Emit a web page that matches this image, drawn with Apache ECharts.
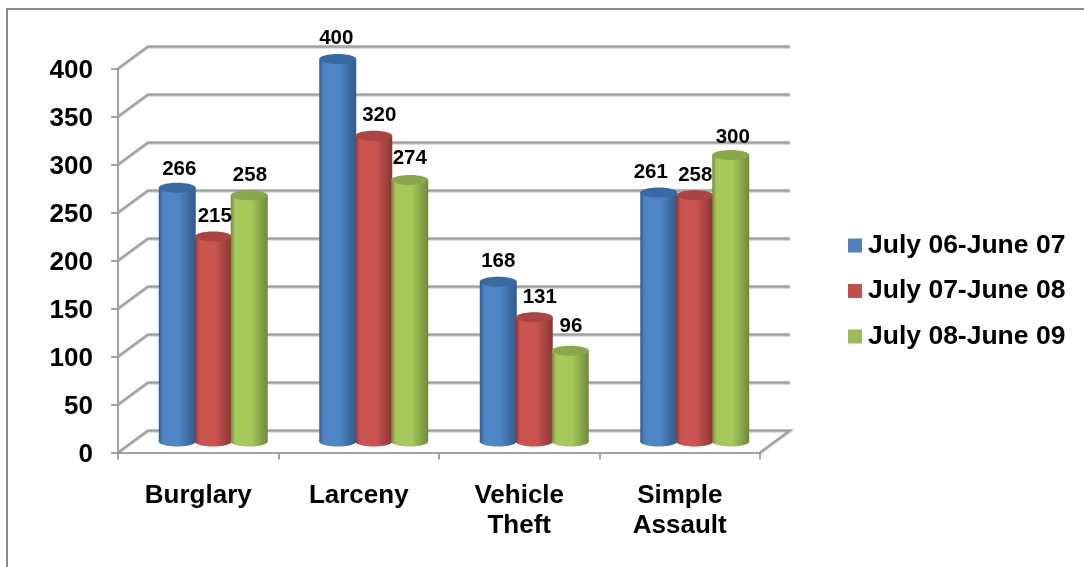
<!DOCTYPE html>
<html><head><meta charset="utf-8">
<style>html,body{margin:0;padding:0;background:#fff}#c{width:1084px;height:567px}</style>
<script src="https://cdn.jsdelivr.net/npm/echarts@6/dist/echarts.min.js"></script>
</head><body><div id="c"></div>
<script>
const categories = ['Burglary','Larceny','Vehicle\nTheft','Simple\nAssault'];
const seriesNames = ['July 06-June 07','July 07-June 08','July 08-June 09'];
const values0 = [266,400,168,261];
const values1 = [215,320,131,258];
const values2 = [258,274,96,300];
const yTicks = [0,50,100,150,200,250,300,350,400];
const legendColors = ['#4f81bd','#c0504d','#9bbb59'];
const edgeColors = ['#315b8c','#8a3735','#6f8a3c'];
const midColors = ['#4d85c5','#cb5451','#a6c85b'];
const capColors = ['#3a6aa3','#ab4543','#8aa84a'];
// manual data-label placement, per series then category (as [dx, dy] from the cap)
const labelNudge0 = [[2,-18],[-1.5,-21],[0,-20],[-8,-20]];
const labelNudge1 = [[1.5,-20],[5.5,-20],[5.5,-20],[0.5,-19.5]];
const labelNudge2 = [[0.7,-19.5],[0,-22],[0.7,-24],[2,-17.5]];
const labelNudges = [labelNudge0,labelNudge1,labelNudge2];
const DEPTH_X = 30, DEPTH_Y = -22, BAR_STEP = 36, BAR_W = 37, RY = 5, CAP_DROP = 1.5;
const FONT = '"Liberation Sans", Arial, sans-serif';
const chart = echarts.init(document.getElementById('c'));
function grad(i){return {type:'linear',x:0,y:0,x2:1,y2:0,colorStops:[
  {offset:0,color:edgeColors[i]},{offset:.12,color:midColors[i]},{offset:.55,color:midColors[i]},{offset:1,color:edgeColors[i]}]};}
function barSeries(i,vals){
  return {name:seriesNames[i],type:'custom',coordinateSystem:'cartesian2d',z:3,clip:false,
    itemStyle:{color:legendColors[i]},
    data:vals.map((v,k)=>[k,v]),encode:{x:0,y:1},
    renderItem(params,api){
      const k=api.value(0),v=api.value(1);
      const base=api.coord([k,0]),top=api.coord([k,v]);
      const cx=base[0]+DEPTH_X/2+(i-1)*BAR_STEP, by=base[1]+DEPTH_Y/2, ty=top[1]+DEPTH_Y/2+CAP_DROP;
      const r=BAR_W/2, n=labelNudges[i][k];
      return {type:'group',children:[
        {type:'ellipse',shape:{cx,cy:by,rx:r,ry:RY},style:{fill:grad(i)},z2:i*3},
        {type:'rect',shape:{x:cx-r,y:ty,width:BAR_W,height:by-ty},style:{fill:grad(i)},z2:i*3+1},
        {type:'ellipse',shape:{cx,cy:ty,rx:r,ry:RY},style:{fill:capColors[i]},z2:i*3+2},
        {type:'text',z2:100,style:{text:String(v),x:cx+n[0],y:ty+n[1],align:'center',verticalAlign:'middle',
          font:'bold 20.5px '+FONT,fill:'#000'}}
      ]};
    }};
}
const wallSeries={type:'custom',coordinateSystem:'cartesian2d',z:1,silent:true,clip:false,
  data:yTicks.map(t=>[0,t]),encode:{x:0,y:1},
  renderItem(params,api){
    const t=api.value(1),y=api.coord([0,t])[1],g=params.coordSys;
    const pts=[[g.x,y],[g.x+DEPTH_X,y+DEPTH_Y],[g.x+g.width+DEPTH_X,y+DEPTH_Y]];
    if(t===0)pts.push([g.x+g.width,y]);
    return {type:'polyline',shape:{points:pts},style:{fill:'none',stroke:'#a3a3a3',lineWidth:2.5,shadowColor:'rgba(0,0,0,.18)',shadowOffsetY:1,shadowBlur:1}};
  }};
chart.setOption({
  animation:false,backgroundColor:'#fff',
  graphic:[{type:'rect',silent:true,z:-1,shape:{x:7,y:9,width:1100,height:600},style:{fill:'none',stroke:'#8c8c8c',lineWidth:2}}],
  grid:{left:118,top:68.5,width:642,height:384,containLabel:false},
  legend:{data:seriesNames,orient:'vertical',left:848,top:232,padding:0,itemWidth:14,itemHeight:14,itemGap:18.5,icon:'rect',
    textStyle:{fontFamily:FONT,fontWeight:'bold',fontSize:26.5,color:'#000',padding:[8,0,0,1]},selectedMode:false},
  xAxis:{type:'category',data:categories,
    axisLine:{lineStyle:{color:'#a3a3a3',width:2}},
    axisTick:{show:true,length:7,lineStyle:{color:'#a3a3a3',width:2}},
    axisLabel:{margin:28,lineHeight:30,fontFamily:FONT,fontWeight:'bold',fontSize:26,color:'#000',interval:0}},
  yAxis:{type:'value',min:0,max:400,interval:50,
    axisLine:{show:true,lineStyle:{color:'#a3a3a3',width:2}},
    axisTick:{show:true,length:7,lineStyle:{color:'#a3a3a3',width:2}},
    splitLine:{show:false},
    axisLabel:{margin:25,formatter:'{a|{value}}',color:'#000',
      rich:{a:{padding:[4,0,0,0],fontFamily:FONT,fontWeight:'bold',fontSize:26,color:'#000'}}}},
  series:[wallSeries,barSeries(0,values0),barSeries(1,values1),barSeries(2,values2)]
});
</script></body></html>
